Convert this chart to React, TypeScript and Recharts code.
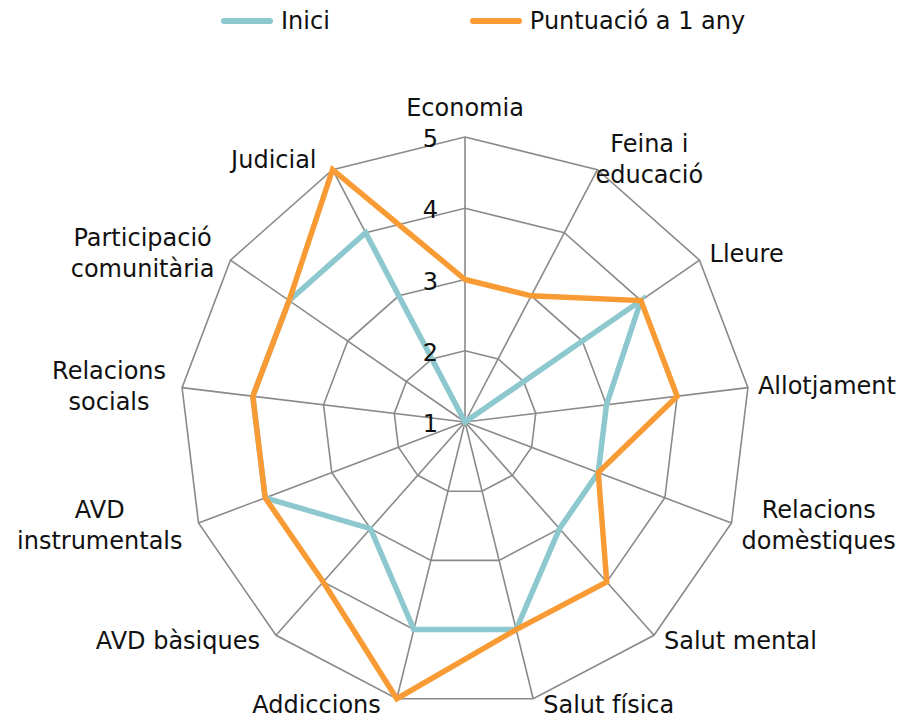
import { RadarChart, Radar, PolarGrid, PolarAngleAxis, PolarRadiusAxis } from "recharts";

const categories = [
  "Economia",
  "Feina i\neducació",
  "Lleure",
  "Allotjament",
  "Relacions\ndomèstiques",
  "Salut mental",
  "Salut física",
  "Addiccions",
  "AVD bàsiques",
  "AVD\ninstrumentals",
  "Relacions\nsocials",
  "Participació\ncomunitària",
  "Judicial",
];
const inici = [1, 1, 4, 3, 3, 3, 4, 4, 3, 4, 4, 4, 4];
const puntuacio = [3, 3, 4, 4, 3, 4, 4, 5, 4, 4, 4, 4, 5];
const radiusTicks = [1, 2, 3, 4, 5];

const seriesNames = ["Inici", "Puntuació a 1 any"];
const TEAL = "#8CC8CE";
const ORANGE = "#F99B34";

const W = 916;
const H = 720;
const CX = 465;
const CY = 422;
const R = 285;
const FONT = "'DejaVu Sans', sans-serif";
const FS = 24;
const LINE_H = 31;

const data = categories.map((c, i) => ({ cat: c, inici: inici[i], puntuacio: puntuacio[i] }));

let ctx: CanvasRenderingContext2D | null = null;
function textWidth(s: string) {
  if (!ctx) {
    ctx = document.createElement("canvas").getContext("2d");
    if (ctx) ctx.font = `${FS}px ${FONT}`;
  }
  return ctx ? ctx.measureText(s).width : s.length * 13;
}

// Excel puts this one tight against the vertex
const labelNudge: Record<string, number> = { "Feina i\neducació": -12 };

function AngleTick(props: any) {
  const { payload } = props;
  const label: string = payload.value;
  const a = (payload.coordinate * Math.PI) / 180;
  const ux = Math.cos(a);
  const uy = -Math.sin(a);
  const vx = CX + R * ux;
  const vy = CY + R * uy;
  const lines = label.split("\n");
  const n = lines.length;
  const w = Math.max(...lines.map(textWidth));
  let bx: number;
  let by: number;
  if (Math.abs(ux) < 0.1) {
    bx = vx;
    by = uy < 0 ? vy - 14 - (n * LINE_H) / 2 : vy + 14 + (n * LINE_H) / 2;
  } else {
    const side = ux > 0 ? 1 : -1;
    const gap = side > 0 ? 10 : 16;
    bx = vx + side * gap + side * (w / 2) + (labelNudge[label] ?? 0);
    by = vy + (uy > 0 ? 8 : 11) * uy;
  }
  // keep the bottom row inside the picture
  by = Math.min(by, H - 15 - ((n - 1) * LINE_H) / 2);
  return (
    <g>
      {lines.map((ln, k) => (
        <text
          key={k}
          x={bx}
          y={by + (k - (n - 1) / 2) * LINE_H}
          textAnchor="middle"
          dominantBaseline="central"
          fontFamily={FONT}
          fontSize={FS}
          fill="#111"
        >
          {ln}
        </text>
      ))}
    </g>
  );
}

function RadiusTick(props: any) {
  const { x, y, payload } = props;
  return (
    <text
      x={x - 27}
      y={y + 2}
      textAnchor="end"
      dominantBaseline="central"
      fontFamily={FONT}
      fontSize={FS}
      fill="#111"
    >
      {payload.value}
    </text>
  );
}

function LegendItem({ color, name }: { color: string; name: string }) {
  return (
    <div style={{ display: "flex", alignItems: "center" }}>
      <div style={{ width: 52, height: 6, borderRadius: 3, background: color, marginRight: 8 }} />
      <span style={{ fontFamily: FONT, fontSize: FS, color: "#111" }}>{name}</span>
    </div>
  );
}

export default function App() {
  return (
    <div style={{ position: "relative", width: W, height: H, background: "#fff" }}>
      <style>{"body{margin:0}"}</style>
      <div
        style={{
          position: "absolute",
          top: 4,
          left: 221,
          display: "flex",
          gap: 140,
          height: 34,
          alignItems: "center",
        }}
      >
        <LegendItem color={TEAL} name={seriesNames[0]} />
        <LegendItem color={ORANGE} name={seriesNames[1]} />
      </div>
      <RadarChart
        width={W}
        height={H}
        data={data}
        cx={CX}
        cy={CY}
        outerRadius={R}
        margin={{ top: 0, right: 0, bottom: 0, left: 0 }}
      >
        <PolarGrid gridType="polygon" stroke="#8a8a8a" strokeWidth={1.6} />
        <PolarAngleAxis dataKey="cat" tick={<AngleTick />} tickLine={false} axisLine={false} />
        <PolarRadiusAxis
          angle={90}
          domain={[1, 5]}
          ticks={radiusTicks as any}
          tickCount={5}
          axisLine={false}
          tickLine={false}
          tick={<RadiusTick />}
        />
        <Radar
          name={seriesNames[0]}
          dataKey="inici"
          stroke={TEAL}
          strokeWidth={5.5}
          fill="none"
          dot={false}
          isAnimationActive={false}
        />
        <Radar
          name={seriesNames[1]}
          dataKey="puntuacio"
          stroke={ORANGE}
          strokeWidth={5.5}
          fill="none"
          dot={false}
          isAnimationActive={false}
        />
      </RadarChart>
    </div>
  );
}
